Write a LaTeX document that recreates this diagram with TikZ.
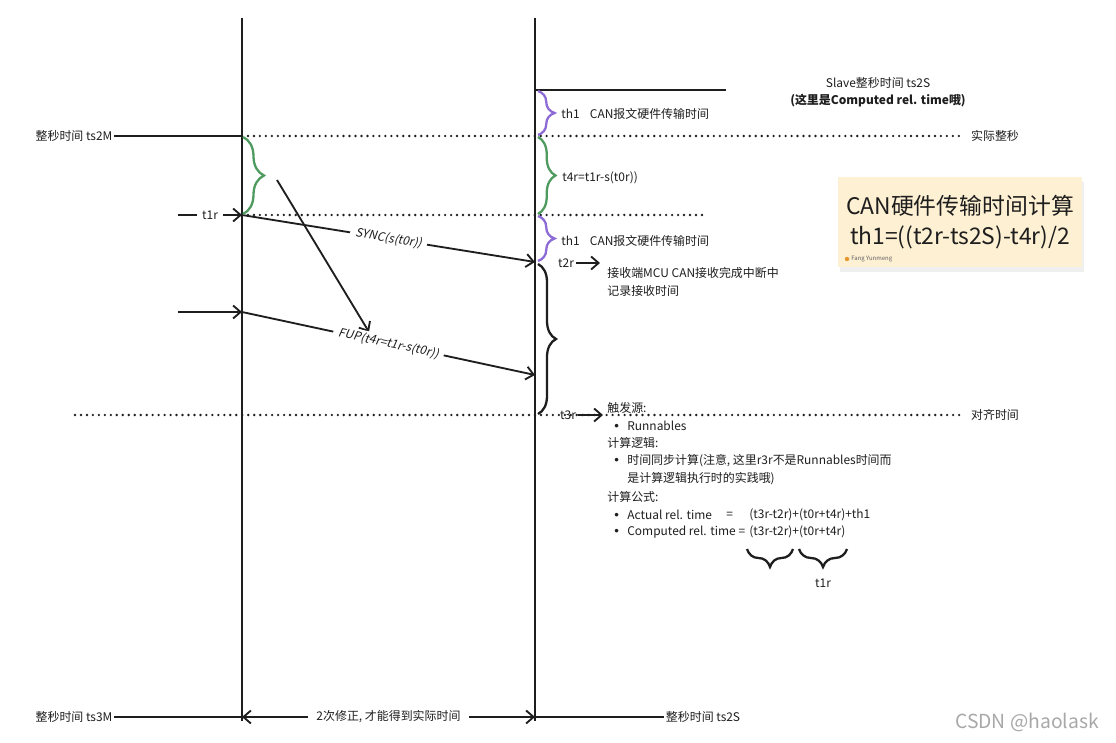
\documentclass[tikz,border=0pt]{standalone}
\usepackage{fontspec}
\setmainfont{Noto Sans CJK SC}
\newfontfamily\slantfont{Noto Sans CJK SC}[FakeSlant=0.2]
\newfontfamily\bulfont{Liberation Sans}
\usetikzlibrary{arrows.meta, decorations.pathreplacing, shadows}
\definecolor{vink}{HTML}{1E1E1E}
\definecolor{vpurple}{HTML}{8C6BD6}
\definecolor{vgreen}{HTML}{4E9A5F}
\definecolor{vnote}{HTML}{FEF0D3}
\definecolor{vmark}{HTML}{A8A8A8}
\definecolor{vorange}{HTML}{E8962E}
\newcommand\smallfs{\fontsize{6.8}{8.2}\selectfont}
\newcommand\notefs{\fontsize{13}{17}\selectfont}
\newcommand\bul{\makebox[2.6mm][l]{{\bulfont\fontsize{7.5}{8}\selectfont •}}}
\tikzset{
  lbl/.style={font=\smallfs, text=vink, inner sep=1pt},
  wlbl/.style={lbl, anchor=west, inner sep=0pt},
  tag/.style={lbl, anchor=west, inner xsep=5pt},
  axis/.style={draw=vink, line width=1.2pt},
  flow/.style={-{Straight Barb[length=1.5mm, width=2.6mm]}, draw=vink, line width=1.05pt},
  twoflow/.style={{Straight Barb[length=1.5mm, width=2.6mm]}-{Straight Barb[length=1.5mm, width=2.6mm]},
                  draw=vink, line width=1.05pt},
  dotline/.style={draw=vink, line width=1.5pt, line cap=round, dash pattern=on 0pt off 3.4pt},
  cbrace/.style={decorate, decoration={brace, amplitude=#1}, line width=1.3pt},
  note/.style={rectangle, fill=vnote, text=vink, font=\notefs, align=center,
               minimum width=4.88cm, minimum height=1.8cm,
               drop shadow={shadow xshift=0.04cm, shadow yshift=-0.1cm, opacity=0.12}}
}
\begin{document}
\begin{tikzpicture}[x=0.02cm, y=-0.02cm]
  \useasboundingbox[fill=white] (0,0) rectangle (1116,743);

  % time axes
  \coordinate (mtop) at (242,18);
  \coordinate (mbot) at (242,721);
  \coordinate (stop) at (535,18);
  \coordinate (sbot) at (535,721);
  \draw[axis] (mtop) -- (mbot);
  \draw[axis] (stop) -- (sbot);

  % slave second
  \coordinate (s2s) at (535,90);
  \coordinate (s2send) at (726,90);
  \draw[axis] (s2s) -- (s2send);
  \node[lbl] (slave) at (878,83) {Slave整秒时间 ts2S};
  \node[lbl, font=\smallfs\bfseries] (slavenote) at (878,101) {(这里是Computed rel. time哦)};

  % master second
  \node[lbl] (ts2M) at (74,136) {整秒时间 ts2M};
  \coordinate (m2s) at (242,136);
  \draw[axis] (ts2M) -- (m2s);
  \node[tag] (realsec) at (962,136) {实际整秒};
  \draw[dotline] (m2s) -- (realsec.west);

  % t1r and SYNC
  \coordinate (t1rstart) at (178,215);
  \coordinate (t1r) at (242,215);
  \coordinate (t1rdot) at (703,215);
  \coordinate (t2rpt) at (535,262);
  \draw[dotline] (t1r) -- (t1rdot);
  \draw[flow] (t1rstart) -- node[lbl, fill=white, inner xsep=3pt]{t1r} (t1r);
  \draw[flow] (t1r) -- node[lbl, sloped, fill=white, font=\slantfont\smallfs, inner xsep=3pt]{SYNC(s(t0r))} (t2rpt);

  % braces on the axes
  \coordinate (gm1) at (243,137);
  \coordinate (gm2) at (243,214);
  \draw[cbrace=0.42cm, vgreen] (gm1) -- (gm2);
  \coordinate (ps1) at (538,91);
  \coordinate (ps2) at (538,135);
  \draw[cbrace=0.33cm, vpurple] (ps1) -- (ps2);
  \coordinate (gs1) at (538,137);
  \coordinate (gs2) at (538,214);
  \draw[cbrace=0.35cm, vgreen] (gs1) -- (gs2);
  \coordinate (ps3) at (538,216);
  \coordinate (ps4) at (538,261);
  \draw[cbrace=0.33cm, vpurple] (ps3) -- (ps4);
  \coordinate (bs1) at (538,264);
  \coordinate (bs2) at (538,414);
  \draw[cbrace=0.36cm, vink] (bs1) -- (bs2);

  \node[wlbl] (th1a) at (561,114) {th1\hspace{0.85em}CAN报文硬件传输时间};
  \node[wlbl] (t4r) at (562,178) {t4r=t1r-s(t0r))};
  \node[wlbl] (th1b) at (561,241) {th1\hspace{0.85em}CAN报文硬件传输时间};

  % t4r computed into FUP
  \coordinate (fupfrom) at (277,180);
  \coordinate (fupto) at (369,332);
  \draw[flow] (fupfrom) -- (fupto);
  \coordinate (fupstart) at (178,312);
  \coordinate (t4rs) at (242,312);
  \coordinate (fupend) at (535,375);
  \draw[flow] (fupstart) -- (t4rs);
  \draw[flow] (t4rs) -- node[lbl, sloped, fill=white, font=\slantfont\smallfs, inner xsep=3pt]{FUP(t4r=t1r-s(t0r))} (fupend);

  % t2r
  \node[lbl] (t2r) at (566,263) {t2r};
  \coordinate (t2rend) at (600,263);
  \draw[flow] (t2r) -- (t2rend);
  \node[wlbl, align=left, font=\fontsize{6.8}{10.7}\selectfont] (rxnote) at (607,282)
    {接收端MCU CAN接收完成中断中\\记录接收时间};

  % alignment
  \coordinate (alignstart) at (75,415);
  \node[tag] (align) at (962,415) {对齐时间};
  \draw[dotline] (alignstart) -- (align.west);
  \node[lbl] (t3r) at (568,415) {t3r};
  \coordinate (t3rend) at (603,415);
  \draw[flow] (t3r) -- (t3rend);

  % notes on t3r
  \node[wlbl] (trig) at (607,408) {触发源:};
  \node[wlbl] (runn) at (614,426) {\bul Runnables};
  \node[wlbl] (logic) at (607,443) {计算逻辑:};
  \node[wlbl] (syncA) at (614,461) {\bul 时间同步计算(注意, 这里r3r不是Runnables时间而};
  \node[wlbl] (syncB) at (627,479) {是计算逻辑执行时的实践哦)};
  \node[wlbl] (form) at (607,497) {计算公式:};
  \node[wlbl] (actA) at (614,515) {\bul Actual rel. time};
  \node[wlbl] (actEq) at (726,515) {=};
  \node[wlbl] (actF) at (749,515) {(t3r-t2r)+(t0r+t4r)+th1};
  \node[wlbl] (cmpA) at (614,532) {\bul Computed rel. time =};
  \node[wlbl] (cmpF) at (749,532) {(t3r-t2r)+(t0r+t4r)};
  \coordinate (ub1) at (793,549);
  \coordinate (ub2) at (747,549);
  \draw[cbrace=0.36cm, vink] (ub1) -- (ub2);
  \coordinate (ub3) at (847,549);
  \coordinate (ub4) at (799,549);
  \draw[cbrace=0.36cm, vink] (ub3) -- (ub4);
  \node[lbl] (t1rsum) at (823,583) {t1r};

  % note card
  \node[note] (calc) at (960,222) {CAN硬件传输时间计算\\th1=((t2r-ts2S)-t4r)/2};
  \fill[vorange] (847,259) circle (2.2);
  \node[anchor=west, inner sep=0pt, text=vink!70, font=\fontsize{3.4}{4}\selectfont] (author) at (851,259) {Fang Yunmeng};

  % bottom row
  \node[lbl] (ts3M) at (74,717) {整秒时间 ts3M};
  \coordinate (m3) at (242,717);
  \coordinate (s3) at (535,717);
  \draw[axis] (ts3M) -- (m3);
  \draw[twoflow] (m3) -- node[lbl, fill=white, inner xsep=5pt]{2次修正, 才能得到实际时间} (s3);
  \node[lbl] (ts2Sb) at (703,717) {整秒时间 ts2S};
  \draw[axis] (s3) -- (ts2Sb);

  \node[text=vmark, font=\fontsize{11}{13}\selectfont] (csdn) at (1027,722) {CSDN @haolask};
\end{tikzpicture}
\end{document}
